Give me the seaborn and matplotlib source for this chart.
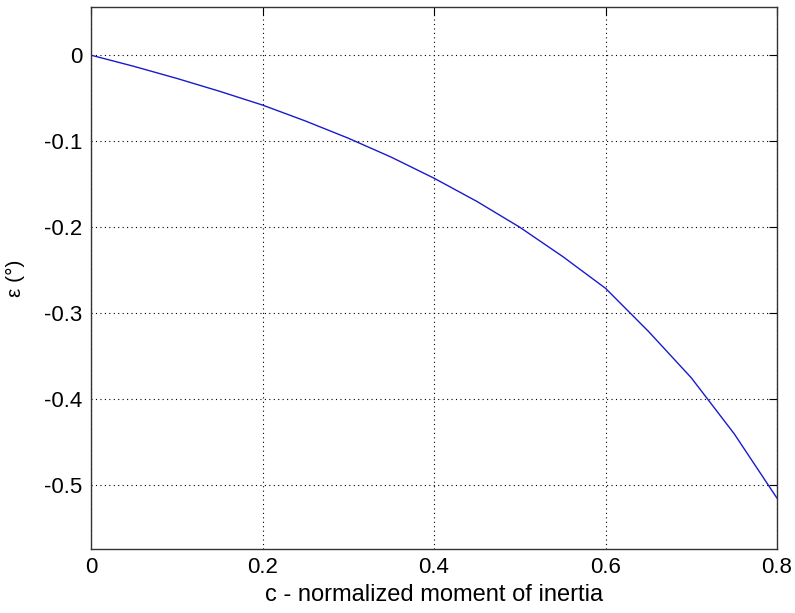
import matplotlib
matplotlib.use("Agg")
import matplotlib.pyplot as plt
import seaborn as sns
import pandas as pd

c_values = [0.0, 0.05, 0.1, 0.15, 0.2, 0.25, 0.3, 0.35, 0.4, 0.45, 0.5,
            0.55, 0.6, 0.65, 0.7, 0.75, 0.8]
eps_values = [0.0, -0.013, -0.027, -0.042, -0.058, -0.0765, -0.0965, -0.1185,
              -0.143, -0.170, -0.200, -0.234, -0.271, -0.321, -0.375,
              -0.440, -0.515]
x_ticks = [0, 0.2, 0.4, 0.6, 0.8]
x_tick_labels = ["0", "0.2", "0.4", "0.6", "0.8"]
y_ticks = [0, -0.1, -0.2, -0.3, -0.4, -0.5]
y_tick_labels = ["0", "-0.1", "-0.2", "-0.3", "-0.4", "-0.5"]
x_label = "c - normalized moment of inertia"
y_label = "\u03b5 (\u00b0)"

sns.set_theme(style="white")
plt.rcParams["font.family"] = ["Liberation Sans", "DejaVu Sans"]

df = pd.DataFrame({"c": c_values, "eps": eps_values})

fig = plt.figure(figsize=(7.95, 6.13), dpi=100)
ax = fig.add_axes([0.1145, 0.1044, 0.8629, 0.8842])

sns.lineplot(data=df, x="c", y="eps", ax=ax, color="#1a1acc", linewidth=1.0)

ax.set_xlim(0, 0.8)
ax.set_ylim(-0.574, 0.056)
ax.set_xticks(x_ticks)
ax.set_xticklabels(x_tick_labels)
ax.set_yticks(y_ticks)
ax.set_yticklabels(y_tick_labels)
ax.grid(True, linestyle=(0, (1, 3)), color="black", linewidth=0.8)
ax.tick_params(direction="in", length=6, width=0.8, colors="black",
               labelsize=16, top=True, right=True)
ax.tick_params(axis="x", pad=6)
ax.tick_params(axis="y", pad=6)
for s in ax.spines.values():
    s.set_color("#333333")
    s.set_linewidth(1.0)
ax.set_xlabel(x_label, fontsize=17, color="black", labelpad=4)
ax.set_ylabel(y_label, fontsize=15, color="black", labelpad=14)
ax.set_facecolor("white")
fig.patch.set_facecolor("white")

fig.savefig("out.png", dpi=100)
